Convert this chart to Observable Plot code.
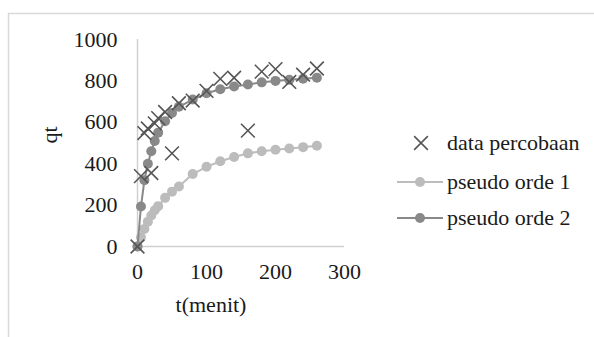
<!DOCTYPE html>
<html>
<head>
<meta charset="utf-8">
<script src="https://cdn.jsdelivr.net/npm/d3@7"></script>
<script src="https://cdn.jsdelivr.net/npm/@observablehq/plot@0.6"></script>
<style>
  html, body { margin: 0; padding: 0; background: #fff; }
  #chart { width: 594px; height: 337px; overflow: hidden; }
  #chart svg, #chart svg text { font-family: 'Liberation Serif', 'Times New Roman', serif !important; }
</style>
</head>
<body>
<div id="chart"></div>
<script>
// Experimental data (data percobaan)
const expTime = [0, 5, 10, 15, 20, 25, 30, 40, 50, 60, 80, 100, 120, 140, 160, 180, 200, 220, 240, 260];
const expQt   = [0, 340, 548, 570, 355, 595, 620, 650, 450, 692, 705, 752, 810, 815, 560, 845, 857, 795, 830, 860];

// Model time points
const modelTime = [0, 5, 10, 15, 20, 25, 30, 40, 50, 60, 80, 100, 120, 140, 160, 180, 200, 220, 240, 260];
const pseudo1   = [0, 45, 85, 120, 150, 175, 195, 235, 265, 290, 350, 385, 412, 432, 450, 460, 467, 473, 480, 487];
const pseudo2   = [0, 193, 320, 400, 460, 510, 550, 605, 645, 675, 710, 740, 760, 773, 783, 793, 800, 805, 810, 815];

const xTicks = [0, 100, 200, 300];
const yTicks = [0, 200, 400, 600, 800, 1000];
const seriesNames = ["data percobaan", "pseudo orde 1", "pseudo orde 2"];
const xLabel = "t(menit)";
const yLabel = "qt";

const colExp = "#555555";
const colP1 = "#bcbcbc";
const colP2 = "#898989";
const axisCol = "#d0d0d0";
const textCol = "#1a1a1a";

const expData = expTime.map((t, i) => ({t, q: expQt[i]}));
const p1Data = modelTime.map((t, i) => ({t, q: pseudo1[i]}));
const p2Data = modelTime.map((t, i) => ({t, q: pseudo2[i]}));

const font = "'Liberation Serif', 'Times New Roman', serif";
const W = 594, H = 337;
const plot = Plot.plot({
  width: W,
  height: H,
  marginLeft: 137,
  marginRight: 250,
  marginTop: 39,
  marginBottom: 91,
  style: {fontFamily: font, fontSize: "22px", color: textCol, background: "transparent"},
  x: {domain: [0, 300], ticks: xTicks, tickFormat: d => String(d), tickSize: 0, tickPadding: 17, label: null},
  y: {domain: [0, 1000], ticks: yTicks, tickFormat: d => String(d), tickSize: 0, tickPadding: 20, label: null},
  marks: [
    Plot.ruleY([0], {x1: 0, x2: 300, stroke: axisCol, strokeWidth: 1.5}),
    Plot.ruleX([0], {y1: 0, y2: 1000, stroke: axisCol, strokeWidth: 1.5}),
    Plot.line(p1Data, {x: "t", y: "q", stroke: colP1, strokeWidth: 2}),
    Plot.dot(p1Data, {x: "t", y: "q", r: 5, fill: colP1, stroke: "none"}),
    Plot.line(p2Data, {x: "t", y: "q", stroke: colP2, strokeWidth: 2}),
    Plot.dot(p2Data, {x: "t", y: "q", r: 5, fill: colP2, stroke: "none"}),
    Plot.dot(expData, {x: "t", y: "q", symbol: "times", r: 6.3, stroke: colExp, strokeWidth: 1.6})
  ]
});

const svg = d3.select(plot);

// outer frame
svg.insert("rect", ":first-child")
  .attr("x", 8.5).attr("y", 13.5).attr("width", 700).attr("height", 400)
  .attr("fill", "none").attr("stroke", "#d9d9d9").attr("stroke-width", 1.5);

// axis titles
svg.append("text").text(xLabel)
  .attr("x", 211).attr("y", 312).attr("text-anchor", "middle")
  .attr("font-family", font).attr("font-size", 22).attr("fill", textCol);
svg.append("text").text(yLabel)
  .attr("transform", "translate(57,135) rotate(-90)").attr("text-anchor", "middle")
  .attr("font-family", font).attr("font-size", 22).attr("fill", textCol);

// legend
const lg = svg.append("g").attr("font-family", font).attr("font-size", 22).attr("fill", textCol)
  .attr("text-anchor", "start");
const rows = [143, 182, 218];
const sym = d3.symbol(d3.symbolTimes, 6.3 * 6.3 * Math.PI)();
lg.append("path").attr("d", sym).attr("transform", `translate(421,${rows[0]})`)
  .attr("fill", "none").attr("stroke", colExp).attr("stroke-width", 1.6);
[[colP1, rows[1]], [colP2, rows[2]]].forEach(([c, y]) => {
  lg.append("line").attr("x1", 397).attr("x2", 443).attr("y1", y).attr("y2", y)
    .attr("stroke", c).attr("stroke-width", 2);
  lg.append("circle").attr("cx", 420).attr("cy", y).attr("r", 5).attr("fill", c);
});
seriesNames.forEach((n, i) => {
  lg.append("text").text(n).attr("x", 447).attr("y", rows[i]).attr("dy", "0.32em")
    .attr("text-anchor", "start");
});

document.getElementById("chart").appendChild(plot);
</script>
</body>
</html>
